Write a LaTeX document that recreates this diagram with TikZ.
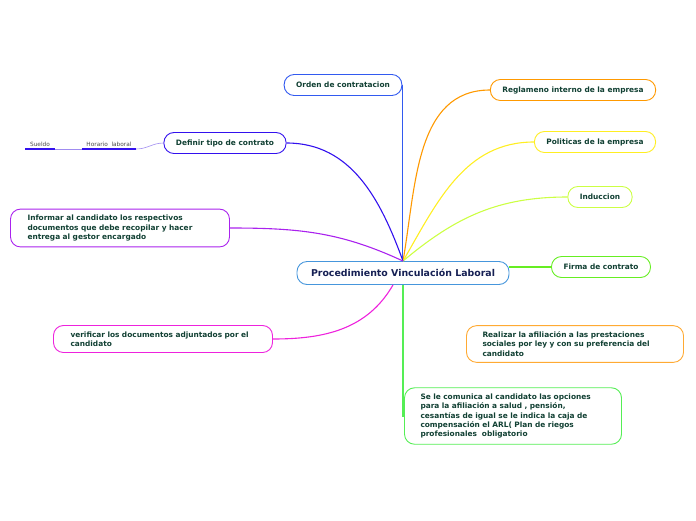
\documentclass[tikz,border=0pt]{standalone}
\usepackage{fontspec}
\setmainfont{DejaVu Sans}
\usetikzlibrary{positioning}
\definecolor{textgreen}{RGB}{17, 64, 51}
\definecolor{mainnavy}{RGB}{22, 32, 84}
\definecolor{mainblue}{RGB}{70, 150, 220}
\definecolor{ordenblue}{RGB}{50, 90, 240}
\definecolor{reglaorange}{RGB}{255, 153, 0}
\definecolor{politicyellow}{RGB}{255, 238, 34}
\definecolor{induclime}{RGB}{204, 255, 68}
\definecolor{firmagreen}{RGB}{102, 238, 34}
\definecolor{afilorange}{RGB}{255, 170, 51}
\definecolor{comungreen}{RGB}{85, 238, 85}
\definecolor{definirviolet}{RGB}{51, 17, 238}
\definecolor{informpurple}{RGB}{170, 34, 238}
\definecolor{verifmagenta}{RGB}{238, 34, 221}
\definecolor{sublilac}{RGB}{160, 140, 240}

\tikzset{
  topic/.style={draw, rounded corners=10pt, line width=0.9pt, fill=white,
    font=\fontsize{7.4}{9.3}\selectfont\bfseries, text=textgreen,
    minimum height=21pt, inner xsep=12pt},
  longtopic/.style={topic, text width=185pt, align=left, inner xsep=17pt, inner ysep=6pt},
  branch/.style={line width=1.1pt},
  subtopic/.style={font=\fontsize{5.8}{7}\selectfont, text=black!70, inner xsep=4.5pt, inner ysep=2pt, anchor=south}
}

\begin{document}
\begin{tikzpicture}[x=1pt, y=-1pt]
  \useasboundingbox (0,0) rectangle (696,520);

  % central topic
  \node[topic, draw=mainblue, text=mainnavy, font=\fontsize{9.4}{11}\selectfont\bfseries,
    minimum height=23pt, inner xsep=14pt] (main) at (403,273) {Procedimiento Vinculación Laboral};

  % right side
  \node[topic, draw=ordenblue] (orden) at (343,85) {Orden de contratacion};
  \node[topic, draw=reglaorange] (reglamento) at (573,90) {Reglameno interno de la empresa};
  \node[topic, draw=politicyellow] (politicas) at (595,142) {Politicas de la empresa};
  \node[topic, draw=induclime] (induccion) at (600,197) {Induccion};
  \node[topic, draw=firmagreen] (firma) at (601,267) {Firma de contrato};
  \node[longtopic, draw=afilorange, inner xsep=16pt] (afiliacion) at (575,344)
    {Realizar la afiliación a las prestaciones\\ sociales por ley y con su preferencia del\\ candidato};
  \node[longtopic, draw=comungreen, inner xsep=16pt] (comunica) at (513,416)
    {Se le comunica al candidato las opciones\\ para la afiliación a salud , pensión,\\ cesantías de igual se le indica la caja de\\ compensación el ARL( Plan de riegos\\ profesionales\ \ obligatorio};

  % left side
  \node[topic, draw=definirviolet] (definir) at (225,143) {Definir tipo de contrato};
  \node[longtopic, draw=informpurple] (informar) at (120,228)
    {Informar al candidato los respectivos\\ documentos que debe recopilar y hacer\\ entrega al gestor encargado};
  \node[longtopic, draw=verifmagenta] (verificar) at (163,339)
    {verificar los documentos adjuntados por el\\ candidato};
  \node[subtopic] (horario) at (109,149) {Horario\ \ laboral};
  \node[subtopic] (sueldo) at (40,149) {Sueldo};

  % branches
  \draw[branch, ordenblue] (orden.east) -- (orden.east |- main.north);
  \draw[branch, reglaorange] (main.north) to[out=80, in=180] (reglamento.west);
  \draw[branch, politicyellow] (main.north) to[out=60, in=180] (politicas.west);
  \draw[branch, induclime] (main.north) to[out=40, in=180] (induccion.west);
  \draw[branch, firmagreen] (main.east |- firma.west) -- (firma.west);
  \draw[branch, comungreen] (main.south) -- (main.south |- comunica.west) -- (comunica.west);
  \draw[branch, definirviolet] (definir.east) to[out=0, in=110] (main.north);
  \draw[branch, informpurple] (informar.east) to[out=0, in=155] (main.north);
  \draw[branch, verifmagenta] (verificar.east) to[out=0, in=-120] ([xshift=-10pt]main.south);

  % sub topics
  \draw[sublilac, line width=0.6pt] (definir.west) to[out=180, in=0] (horario.south east);
  \draw[sublilac, line width=0.4pt] (horario.south west) -- (sueldo.south east);
  \draw[definirviolet, line width=1.2pt] (horario.south west) -- (horario.south east);
  \draw[definirviolet, line width=1.2pt] (sueldo.south west) -- (sueldo.south east);
\end{tikzpicture}
\end{document}
